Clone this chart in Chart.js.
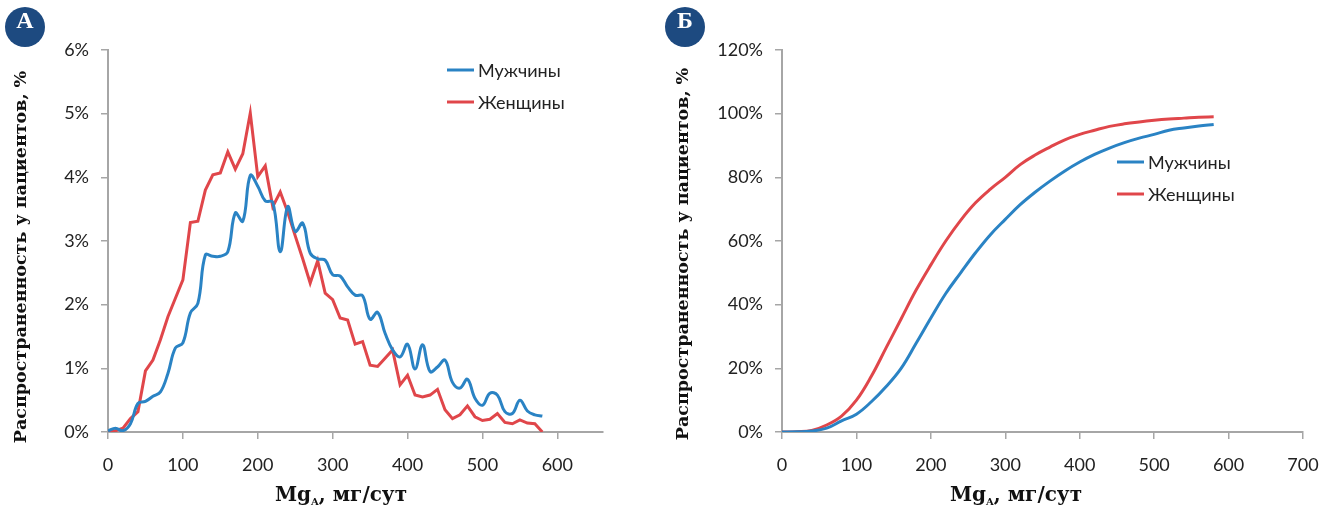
<!DOCTYPE html>
<html lang="ru">
<head>
<meta charset="utf-8">
<script src="https://cdn.jsdelivr.net/npm/chart.js@4.4.1/dist/chart.umd.min.js"></script>
<style>
  html, body { margin: 0; padding: 0; background: #fff; }
  #wrap { position: relative; width: 1330px; height: 512px; }
  canvas { position: absolute; top: 0; }
  #leftChart { left: 0; }
  #rightChart { left: 665px; }
  .badge {
    position: absolute; width: 40px; height: 40px; border-radius: 50%;
    background: #1d4a80; color: #fff; text-align: center; line-height: 42px;
    font: bold 24px "Liberation Serif", serif;
  }
</style>
</head>
<body>
<div id="wrap">
  <canvas id="leftChart" width="665" height="512"></canvas>
  <canvas id="rightChart" width="665" height="512"></canvas>
  <div class="badge" style="left:5px;top:7px">А</div>
  <div class="badge" style="left:665px;top:7px">Б</div>
</div>
<script>
// А: распределение пациентов по суточной экскреции магния (шаг 10 мг/сут)
const doseMg = [0, 10, 20, 30, 40, 50, 60, 70, 80, 90, 100, 110, 120, 130, 140, 150, 160, 170, 180, 190,
  200, 210, 220, 230, 240, 250, 260, 270, 280, 290, 300, 310, 320, 330, 340, 350, 360, 370, 380, 390,
  400, 410, 420, 430, 440, 450, 460, 470, 480, 490, 500, 510, 520, 530, 540, 550, 560, 570, 580];
const menPct = [0.02, 0.06, 0.02, 0.13, 0.45, 0.48, 0.56, 0.63, 0.92, 1.32, 1.40, 1.87, 2.02, 2.78, 2.76, 2.76, 2.83, 3.44, 3.31, 4.03,
  3.86, 3.63, 3.61, 2.83, 3.54, 3.15, 3.28, 2.81, 2.72, 2.70, 2.47, 2.45, 2.28, 2.15, 2.14, 1.77, 1.88, 1.55, 1.29, 1.18,
  1.38, 0.99, 1.37, 0.95, 1.02, 1.13, 0.78, 0.69, 0.83, 0.53, 0.42, 0.61, 0.58, 0.32, 0.29, 0.50, 0.33, 0.27, 0.25];
const womenPct = [0, 0.02, 0.06, 0.21, 0.32, 0.96, 1.13, 1.45, 1.81, 2.10, 2.39, 3.29, 3.31, 3.80, 4.04, 4.07, 4.40, 4.13, 4.37, 5.01,
  4.01, 4.18, 3.54, 3.77, 3.45, 3.08, 2.72, 2.34, 2.69, 2.18, 2.08, 1.79, 1.76, 1.38, 1.42, 1.05, 1.03, 1.16, 1.29, 0.74,
  0.89, 0.58, 0.55, 0.58, 0.67, 0.35, 0.21, 0.27, 0.41, 0.24, 0.18, 0.20, 0.29, 0.15, 0.13, 0.19, 0.14, 0.13, 0.00];

// Б: накопленная доля пациентов (шаг 20 мг/сут)
const cumDoseMg = [0, 20, 40, 60, 80, 100, 120, 140, 160, 180, 200, 220, 240, 260, 280,
  300, 320, 340, 360, 380, 400, 420, 440, 460, 480, 500, 520, 540, 560, 580];
const menCumPct = [0, 0.05, 0.3, 1.2, 3.5, 5.6, 9.5, 14.3, 20.0, 27.8, 35.8, 43.5, 50.0, 56.3, 62.0,
  66.8, 71.4, 75.3, 78.8, 82.0, 84.8, 87.2, 89.2, 90.9, 92.3, 93.5, 94.8, 95.5, 96.1, 96.6];
const womenCumPct = [0, 0.1, 0.5, 2.2, 5.0, 10.0, 17.5, 26.5, 35.5, 44.5, 52.5, 60.0, 66.5, 72.0, 76.3,
  80.0, 84.0, 87.0, 89.5, 91.8, 93.5, 94.8, 96.0, 96.8, 97.4, 97.9, 98.3, 98.6, 98.9, 99.0];

const seriesNames = ['Мужчины', 'Женщины'];
const seriesColors = ['#2a83c4', '#e0464a'];
const leftXTicks = [0, 100, 200, 300, 400, 500, 600];
const rightXTicks = [0, 100, 200, 300, 400, 500, 600, 700];
const leftYTicks = [0, 1, 2, 3, 4, 5, 6];
const rightYTicks = [0, 20, 40, 60, 80, 100, 120];
const yTitle = 'Распространенность у пациентов, %';

const axisGray = '#a6a6a6';
const tickFont = { family: 'Lato', size: 18 };

function pts(xs, ys) {
  return xs.map((x, i) => ({ x: x, y: ys[i] }));
}

// легенда внутри области графика и подписи осей
const decor = {
  id: 'decor',
  afterDraw(chart, args, o) {
    const ctx = chart.ctx;
    ctx.save();
    chart.data.datasets.forEach((ds, i) => {
      const y = o.legendY + i * 32;
      ctx.strokeStyle = ds.borderColor;
      ctx.lineWidth = 3;
      ctx.beginPath();
      ctx.moveTo(o.legendX, y);
      ctx.lineTo(o.legendX + 27, y);
      ctx.stroke();
      ctx.fillStyle = '#222';
      ctx.font = '18px Lato';
      ctx.textBaseline = 'middle';
      ctx.fillText(ds.label, o.legendX + 31, y + 1);
    });

    // подпись оси Y
    ctx.save();
    ctx.translate(o.yTitleX, o.yTitleY);
    ctx.rotate(-Math.PI / 2);
    ctx.font = 'bold 17.5px "DejaVu Serif"';
    ctx.textAlign = 'center';
    ctx.textBaseline = 'middle';
    ctx.fillStyle = '#111';
    ctx.fillText(yTitle, 0, 0);
    ctx.restore();

    // подпись оси X: Mg с индексом A
    const fMg = 'bold 20px "DejaVu Serif"';
    const fSub = 'bold 10px "DejaVu Serif"';
    const fRest = 'bold 20px "DejaVu Serif"';
    ctx.textBaseline = 'alphabetic';
    ctx.textAlign = 'left';
    ctx.fillStyle = '#111';
    ctx.font = fMg; const w1 = ctx.measureText('Mg').width;
    ctx.font = fSub; const w2 = ctx.measureText('A').width;
    ctx.font = fRest; const w3 = ctx.measureText(', мг/сут').width;
    let x = o.xTitleX - (w1 + w2 + w3) / 2;
    const base = o.xTitleY;
    ctx.font = fMg; ctx.fillText('Mg', x, base); x += w1;
    ctx.font = fSub; ctx.fillText('A', x, base + 4); x += w2;
    ctx.font = fRest; ctx.fillText(', мг/сут', x, base);
    ctx.restore();
  }
};

function makeChart(id, cfg) {
  return new Chart(document.getElementById(id), {
    type: 'line',
    data: {
      datasets: [
        {
          label: seriesNames[0],
          data: cfg.men,
          borderColor: seriesColors[0],
          borderWidth: 3,
          pointRadius: 0,
          tension: 0.4,
          fill: false
        },
        {
          label: seriesNames[1],
          data: cfg.women,
          borderColor: seriesColors[1],
          borderWidth: 3,
          pointRadius: 0,
          tension: cfg.womenTension,
          fill: false
        }
      ]
    },
    options: {
      responsive: false,
      animation: false,
      layout: { padding: { left: 0, right: cfg.padRight, top: 50, bottom: 0 } },
      plugins: {
        legend: { display: false },
        tooltip: { enabled: false },
        decor: cfg.decor
      },
      scales: {
        x: {
          type: 'linear',
          min: 0,
          max: cfg.xMax,
          afterFit: (s) => { s.height = 80; s.paddingLeft = 0; s.paddingRight = 0; },
          afterBuildTicks: (s) => { s.ticks = cfg.xTicks.map(v => ({ value: v })); },
          border: { color: axisGray, width: 2 },
          grid: { drawOnChartArea: false, color: axisGray, lineWidth: 1.5, tickLength: 7 },
          ticks: { font: tickFont, color: '#222', padding: 15, maxRotation: 0 }
        },
        y: {
          min: 0,
          max: cfg.yTicks[cfg.yTicks.length - 1],
          afterFit: (s) => { s.width = cfg.yWidth; s.paddingTop = 0; s.paddingBottom = 0; },
          afterBuildTicks: (s) => { s.ticks = cfg.yTicks.map(v => ({ value: v })); },
          border: { color: axisGray, width: 2 },
          grid: { drawOnChartArea: false, color: axisGray, lineWidth: 1.5, tickLength: 7 },
          ticks: { font: tickFont, color: '#222', padding: 12, callback: (v) => v + '%' }
        }
      }
    },
    plugins: [decor]
  });
}

makeChart('leftChart', {
  men: pts(doseMg, menPct),
  women: pts(doseMg, womenPct),
  womenTension: 0,
  xMax: 661,
  xTicks: leftXTicks,
  yTicks: leftYTicks,
  yWidth: 108,
  padRight: 62,
  decor: { legendX: 447, legendY: 70, yTitleX: 21, yTitleY: 257, xTitleX: 341, xTitleY: 501 }
});

makeChart('rightChart', {
  men: pts(cumDoseMg, menCumPct),
  women: pts(cumDoseMg, womenCumPct),
  womenTension: 0.4,
  xMax: 700,
  xTicks: rightXTicks,
  yTicks: rightYTicks,
  yWidth: 117,
  padRight: 27,
  decor: { legendX: 452, legendY: 162, yTitleX: 18, yTitleY: 254, xTitleX: 351, xTitleY: 501 }
});
</script>
</body>
</html>
